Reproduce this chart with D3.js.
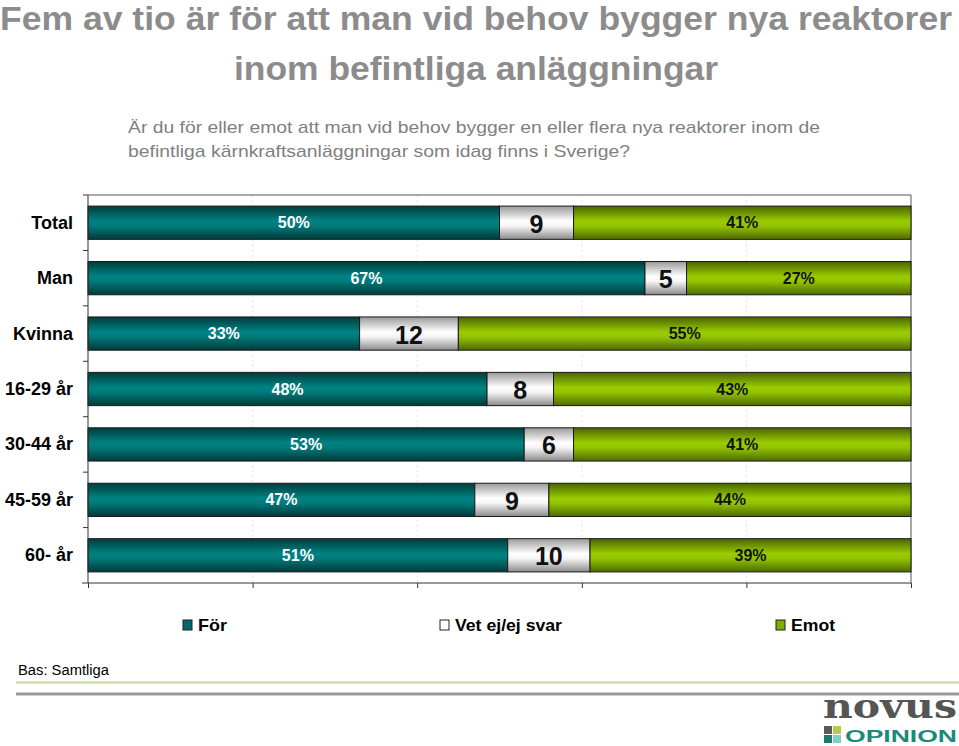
<!DOCTYPE html>
<html><head><meta charset="utf-8">
<script src="https://cdn.jsdelivr.net/npm/d3@7/dist/d3.min.js"></script>
<style>body{margin:0;background:#fff}svg{display:block}</style>
</head><body>
<script>
const categories = ["Total","Man","Kvinna","16-29 år","30-44 år","45-59 år","60- år"];
const forValues = [50,67,33,48,53,47,51];
const vetValues = [9,5,12,8,6,9,10];
const emotValues = [41,27,55,43,41,44,39];
const seriesNames = ["För","Vet ej/ej svar","Emot"];
const xTicks = [0,20,40,60,80,100];

const W=959,H=746;
const svg=d3.select("body").append("svg").attr("width",W).attr("height",H).style("font-family","Liberation Sans, Arial, sans-serif");
const defs=svg.append("defs");
function grad(id,stops){
  const g=defs.append("linearGradient").attr("id",id).attr("x1",0).attr("y1",0).attr("x2",0).attr("y2",1);
  stops.forEach(([o,c])=>g.append("stop").attr("offset",o).attr("stop-color",c));
}
grad("gFor",[[0,"#003c3c"],[0.45,"#008282"],[0.6,"#007a7a"],[1,"#003a3a"]]);
grad("gVet",[[0,"#9a9a9a"],[0.45,"#ffffff"],[0.6,"#f4f4f4"],[1,"#8a8a8a"]]);
grad("gEmot",[[0,"#4a6400"],[0.45,"#99cc00"],[0.6,"#93c400"],[1,"#4e6a00"]]);
const fills=["url(#gFor)","url(#gVet)","url(#gEmot)"];
const legendFills=["#006a6a","#ffffff","#7fae00"];

// Title
const title=svg.append("g").attr("fill","#8c8c8c").attr("font-weight","bold");
title.append("text").attr("x",0).attr("y",30).attr("font-size",34).attr("textLength",952).attr("lengthAdjust","spacingAndGlyphs").text("Fem av tio är för att man vid behov bygger nya reaktorer");
title.append("text").attr("x",234).attr("y",80).attr("font-size",34).attr("textLength",484).attr("lengthAdjust","spacingAndGlyphs").text("inom befintliga anläggningar");
const sub=svg.append("g").attr("fill","#808080").attr("font-size",17);
sub.append("text").attr("x",128).attr("y",133).attr("textLength",692).attr("lengthAdjust","spacingAndGlyphs").text("Är du för eller emot att man vid behov bygger en eller flera nya reaktorer inom de");
sub.append("text").attr("x",128).attr("y",157).attr("textLength",502).attr("lengthAdjust","spacingAndGlyphs").text("befintliga kärnkraftsanläggningar som idag finns i Sverige?");

// Plot
const x0=88,x1=911,y0=195,y1=583;
const x=d3.scaleLinear().domain([0,100]).range([x0,x1]);
const y=d3.scaleBand().domain(categories).range([y0,y1]).paddingInner(0.4).paddingOuter(0.2);
const yb=d3.scaleBand().domain(categories).range([y0,y1]);

// grid
svg.append("g").selectAll("line").data(xTicks.slice(1,-1)).join("line")
  .attr("x1",d=>x(d)).attr("x2",d=>x(d)).attr("y1",y0).attr("y2",y1)
  .attr("stroke","#e4e4e4").attr("stroke-dasharray","2,3");
// frame top & right
svg.append("line").attr("x1",x0).attr("x2",x1).attr("y1",y0).attr("y2",y0).attr("stroke","#555");
svg.append("line").attr("x1",x1).attr("x2",x1).attr("y1",y0).attr("y2",y1).attr("stroke","#555");

const rows=categories.map((c,i)=>{
  const vals=[forValues[i],vetValues[i],emotValues[i]];
  const tot=d3.sum(vals);
  let acc=0;
  return vals.map((v,k)=>{const s=acc/tot*100;acc+=v;return {c,k,v,s,e:acc/tot*100};});
}).flat();

const bars=svg.append("g");
bars.selectAll("rect").data(rows).join("rect")
  .attr("x",d=>x(d.s)).attr("width",d=>x(d.e)-x(d.s))
  .attr("y",d=>y(d.c)).attr("height",y.bandwidth())
  .attr("fill",d=>fills[d.k]).attr("stroke","#1a1a1a").attr("stroke-width",1);

bars.selectAll("text").data(rows).join("text")
  .attr("x",d=>(x(d.s)+x(d.e))/2).attr("y",d=>y(d.c)+y.bandwidth()/2)
  .attr("text-anchor","middle").attr("dominant-baseline","central")
  .attr("font-size",d=>d.k===1?25:16).attr("font-weight","bold")
  .attr("fill",d=>d.k===0?"#ffffff":"#111")
  .attr("dy",d=>d.k===1?1:0)
  .text(d=>d.k===1?d.v:d.v+"%");

// y axis
const ya=svg.append("g");
ya.append("line").attr("x1",x0).attr("x2",x0).attr("y1",y0).attr("y2",y1).attr("stroke","#333");
ya.selectAll("line.t").data(categories.slice(1)).join("line").attr("class","t")
  .attr("x1",x0-5).attr("x2",x0).attr("y1",d=>yb(d)).attr("y2",d=>yb(d)).attr("stroke","#333");
ya.append("line").attr("x1",x0-5).attr("x2",x0).attr("y1",y0).attr("y2",y0).attr("stroke","#333");
ya.selectAll("text").data(categories).join("text")
  .attr("x",73).attr("y",d=>y(d)+y.bandwidth()/2).attr("dominant-baseline","central")
  .attr("text-anchor","end").attr("font-size",18).attr("font-weight","bold").attr("fill","#000").text(d=>d);

// x axis
const xa=svg.append("g").attr("transform",`translate(0,${y1})`)
  .call(d3.axisBottom(x).tickValues(xTicks).tickSize(5).tickFormat(""));
xa.select(".domain").attr("stroke","#333").attr("d",`M${x0-6},0H${x1}`);
xa.selectAll(".tick line").attr("stroke","#333");

// legend
const leg=svg.append("g").attr("font-size",17).attr("font-weight","bold");
const lx=[183,440,776], lw=[29,107,44];
seriesNames.forEach((n,i)=>{
  leg.append("rect").attr("x",lx[i]).attr("y",620).attr("width",9).attr("height",10)
    .attr("fill",legendFills[i]).attr("stroke","#222");
  leg.append("text").attr("x",lx[i]+15).attr("y",631).attr("textLength",lw[i]).attr("lengthAdjust","spacingAndGlyphs").text(n);
});

// footer
svg.append("text").attr("x",18).attr("y",675).attr("font-size",14).attr("fill","#000").attr("textLength",91).attr("lengthAdjust","spacingAndGlyphs").text("Bas: Samtliga");
svg.append("line").attr("x1",16).attr("x2",959).attr("y1",682.5).attr("y2",682.5).attr("stroke","#c9d79c").attr("stroke-width",2);
svg.append("line").attr("x1",16).attr("x2",959).attr("y1",694).attr("y2",694).attr("stroke","#9a9a9a").attr("stroke-width",3);

// logo
const logo=svg.append("g");
logo.append("text").attr("x",823).attr("y",718).attr("font-family","DejaVu Serif, serif").attr("font-weight","bold")
  .attr("font-size",34).attr("fill","#555").attr("textLength",134).attr("lengthAdjust","spacingAndGlyphs").text("novus");
logo.append("text").attr("x",845).attr("y",742).attr("font-weight","bold").attr("font-size",17).attr("fill","#1b8a7e")
  .attr("textLength",112).attr("lengthAdjust","spacingAndGlyphs").text("OPINION");
[[824,726,"#5a5a5a"],[833,726,"#b7c94e"],[824,735,"#1b7a70"],[833,735,"#7fd0c2"]].forEach(([a,b,c])=>
  logo.append("rect").attr("x",a).attr("y",b).attr("width",8).attr("height",8).attr("fill",c));
</script>
</body></html>
